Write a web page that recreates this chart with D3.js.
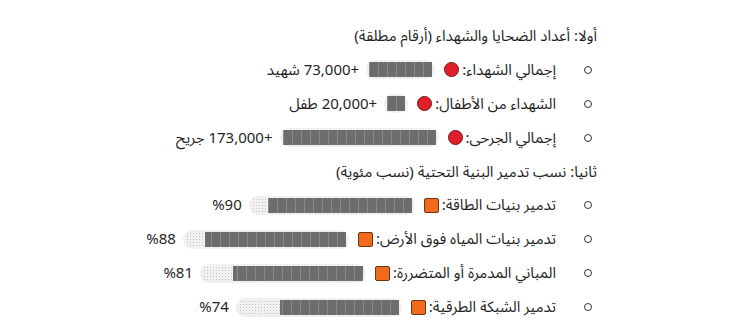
<!DOCTYPE html>
<html lang="ar" dir="rtl">
<head>
<meta charset="utf-8">
<script src="https://cdn.jsdelivr.net/npm/d3@7"></script>
<style>
  body { margin: 0; background: #fff; font-family: "Noto Sans Arabic", "Noto Sans", "DejaVu Sans", sans-serif; color: #1f1f1f; }
  #chart { position: relative; width: 738px; height: 333px; overflow: hidden; }
  .line { position: absolute; display: flex; align-items: center; height: 26px; font-size: 15px; white-space: nowrap; }
  .title { right: 141px; }
  .item { right: 146px; }
  .bullet { width: 6px; height: 6px; border: 1.3px solid #333; border-radius: 50%; margin-left: 28px; }
  .icon { width: 15px; height: 15px; box-sizing: border-box; margin-right: 3px; margin-left: 9px; }
  .icon.circle { background: #e01e2c; border: 1.5px solid #7a1414; border-radius: 50%; }
  .icon.square { background: #f26a1c; border: 1.5px solid #6b3412; border-radius: 2px; }
  .pill { display: flex; background: #f0f0f0; border-radius: 9px; padding: 2px 3px; height: 15px; margin-left: 7px; }
  .dark { height: 15px; background: repeating-linear-gradient(to left, #6d6d6d 0 8px, #8a8a8a 8px 9px); }
  .light { height: 15px; background-color: #f1f1f1; background-image: radial-gradient(#c2c2c2 0.7px, transparent 1px); background-size: 3px 3px; }
</style>
</head>
<body>
<div id="chart"></div>
<script>
const sectionTitles = ["أولا: أعداد الضحايا والشهداء (أرقام مطلقة)", "ثانيا: نسب تدمير البنية التحتية (نسب مئوية)"];
const countLabels = ["إجمالي الشهداء:", "الشهداء من الأطفال:", "إجمالي الجرحى:"];
const countValues = [73000, 20000, 173000];
const countUnits = ["شهيد", "طفل", "جريح"];
const pctLabels = ["تدمير بنيات الطاقة:", "تدمير بنيات المياه فوق الأرض:", "المباني المدمرة أو المتضررة:", "تدمير الشبكة الطرقية:"];
const pctValues = [90, 88, 81, 74];

// ordre des lignes de haut en bas
const rows = [
  { type: "title", text: sectionTitles[0] },
  ...countLabels.map((l, i) => ({ type: "count", label: l, value: countValues[i], unit: countUnits[i] })),
  { type: "title", text: sectionTitles[1] },
  ...pctLabels.map((l, i) => ({ type: "pct", label: l, value: pctValues[i] }))
];

const y = d3.scalePoint().domain(d3.range(rows.length)).range([36, 307]);
// une case tous les 10 000
const xCount = d3.scaleLinear().domain([0, 170000]).range([0, 153]);
const xPct = d3.scaleLinear().domain([0, 100]).range([0, 160]);
const fmt = d3.format(",");

const chart = d3.select("#chart");

const line = chart.selectAll(".line")
  .data(rows)
  .enter()
  .append("div")
  .attr("class", d => "line " + (d.type === "title" ? "title" : "item"))
  .style("top", (d, i) => (y(i) - 13) + "px");

line.filter(d => d.type === "title").text(d => d.text);

const items = line.filter(d => d.type !== "title");
items.append("span").attr("class", "bullet");
items.append("span").text(d => d.label);
items.append("span").attr("class", d => "icon " + (d.type === "count" ? "circle" : "square"));

const pill = items.append("span").attr("class", "pill");
pill.append("span")
  .attr("class", "dark")
  .style("width", d => (d.type === "count" ? xCount(Math.floor(d.value / 10000) * 10000) : xPct(d.value)) + "px");
pill.filter(d => d.type === "pct")
  .append("span")
  .attr("class", "light")
  .style("width", d => (xPct(100) - xPct(d.value)) + "px");

items.append("span")
  .text(d => d.type === "count" ? "+" + fmt(d.value) + " " + d.unit : "%" + d.value);
</script>
</body>
</html>
